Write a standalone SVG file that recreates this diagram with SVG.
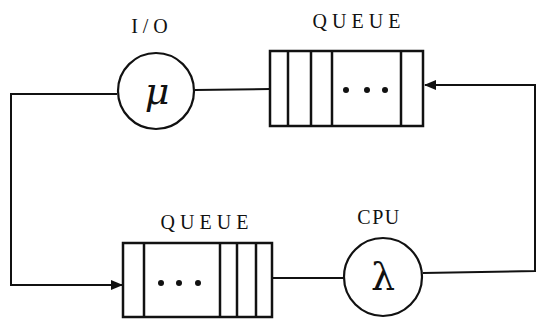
<svg xmlns="http://www.w3.org/2000/svg" width="539" height="320" viewBox="0 0 539 320">
<style>
.lbl{font-family:"Liberation Serif","Times New Roman",serif;font-size:20px;fill:#111;text-anchor:middle}
.sym{font-family:"DejaVu Serif","Liberation Serif",serif;font-size:38px;fill:#111;text-anchor:middle}
.box{fill:#fff;stroke:#111;stroke-width:2.5}
.div{stroke:#111;stroke-width:2.5}
.srv{fill:#fff;stroke:#111;stroke-width:2.2}
.wire{fill:none;stroke:#111;stroke-width:2}
.dot{fill:#111}
</style>
<defs>
<marker id="arr" markerWidth="12" markerHeight="10" refX="11" refY="5" orient="auto" markerUnits="userSpaceOnUse">
<path d="M0,0 L12,5 L0,10 Z" fill="#111"/>
</marker>
</defs>
<g id="connectors">
<path class="wire" d="M117,94 L11,94 L11,285 L122,285" marker-end="url(#arr)"/>
<path class="wire" d="M195,90 L270,89"/>
<path class="wire" d="M272,278 L343,278"/>
<path class="wire" d="M423,273 L535,271 L535,85 L425,85" marker-end="url(#arr)"/>
</g>
<g id="io">
<text class="lbl" x="152" y="33" letter-spacing="5">I/O</text>
<circle class="srv" cx="156" cy="91" r="38"/>
<text class="sym" x="157" y="104" font-style="italic">μ</text>
</g>
<g id="queue-top">
<text class="lbl" x="359" y="28" letter-spacing="5">QUEUE</text>
<rect class="box" x="270" y="51" width="153" height="75"/>
<line class="div" x1="288" y1="51" x2="288" y2="126"/>
<line class="div" x1="311" y1="51" x2="311" y2="126"/>
<line class="div" x1="332" y1="51" x2="332" y2="126"/>
<line class="div" x1="401" y1="51" x2="401" y2="126"/>
<circle class="dot" cx="346" cy="90" r="3"/>
<circle class="dot" cx="367" cy="90" r="3"/>
<circle class="dot" cx="385" cy="90" r="3"/>
</g>
<g id="queue-bottom">
<text class="lbl" x="207" y="229" letter-spacing="5">QUEUE</text>
<rect class="box" x="123" y="243" width="149" height="74"/>
<line class="div" x1="144" y1="243" x2="144" y2="317"/>
<line class="div" x1="220" y1="243" x2="220" y2="317"/>
<line class="div" x1="237" y1="243" x2="237" y2="317"/>
<line class="div" x1="256" y1="243" x2="256" y2="317"/>
<circle class="dot" cx="161" cy="283" r="3"/>
<circle class="dot" cx="179" cy="283" r="3"/>
<circle class="dot" cx="198" cy="283" r="3"/>
</g>
<g id="cpu">
<text class="lbl" x="379" y="224" letter-spacing="1.5">CPU</text>
<circle class="srv" cx="383" cy="277" r="39"/>
<text class="sym" x="383" y="290">λ</text>
</g>
</svg>
